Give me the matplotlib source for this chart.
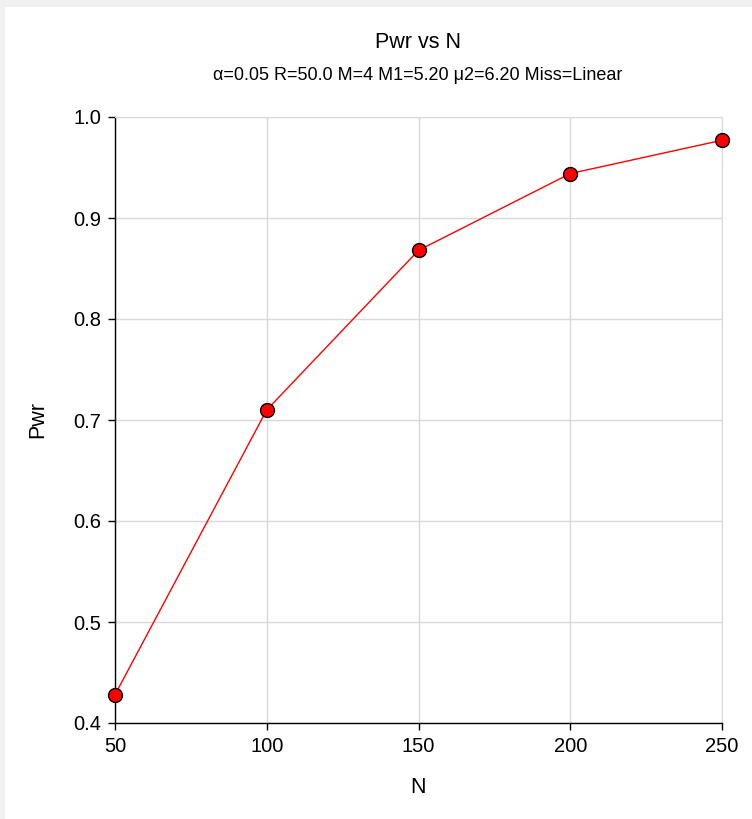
import matplotlib
matplotlib.use('Agg')
import matplotlib.pyplot as plt
from matplotlib.patches import Rectangle

plt.rcParams['font.family'] = ['Liberation Sans', 'DejaVu Sans']

# data
n_values = [50, 100, 150, 200, 250]
pwr_values = [0.428, 0.710, 0.868, 0.944, 0.977]
x_ticks = [50, 100, 150, 200, 250]
y_ticks = [0.4, 0.5, 0.6, 0.7, 0.8, 0.9, 1.0]

W, H = 752, 819
fig = plt.figure(figsize=(W / 100, H / 100), dpi=100)
fig.patch.set_facecolor('#f0f0f0')

# white panel with thin gray band on top and left
panel = Rectangle((5 / W, 0), 1 - 5 / W, 1 - 7 / H,
                  transform=fig.transFigure, facecolor='white',
                  edgecolor='none', zorder=-10)
fig.add_artist(panel)

ax = fig.add_axes([115 / W, 1 - 723 / H, (722 - 115) / W, (723 - 117) / H])
ax.set_zorder(1)
ax.set_facecolor('white')

ax.plot(n_values, pwr_values, color='red', linewidth=1.0, zorder=3)
ax.plot(n_values, pwr_values, linestyle='none', marker='o', markersize=10,
        markerfacecolor='red', markeredgecolor='black', markeredgewidth=1.0,
        zorder=4, clip_on=False)

ax.set_xlim(50, 250)
ax.set_ylim(0.4, 1.0)
ax.set_xticks(x_ticks)
ax.set_yticks(y_ticks)
ax.set_yticklabels(['%.1f' % v for v in y_ticks])
ax.grid(True, color='#d9d9d9', linewidth=1.0, zorder=0)
ax.set_axisbelow(True)

for side in ['top', 'right']:
    ax.spines[side].set_color('#d9d9d9')
for side in ['left', 'bottom']:
    ax.spines[side].set_color('black')
    ax.spines[side].set_linewidth(1.0)

ax.tick_params(axis='both', labelsize=14.5, color='black', length=5, width=1.0,
               direction='out')
ax.tick_params(axis='x', pad=5)
ax.tick_params(axis='y', pad=5)

ax.set_xlabel('N', fontsize=15.5, labelpad=15)
ax.set_ylabel('Pwr', fontsize=15.5, labelpad=18)

fig.text(418 / W, 1 - 42 / H, 'Pwr vs N', ha='center', va='center', fontsize=15.5)
fig.text(418 / W, 1 - 75 / H, 'α=0.05 R=50.0 M=4 M1=5.20 μ2=6.20 Miss=Linear',
         ha='center', va='center', fontsize=13)

fig.savefig('out.png', dpi=100)
